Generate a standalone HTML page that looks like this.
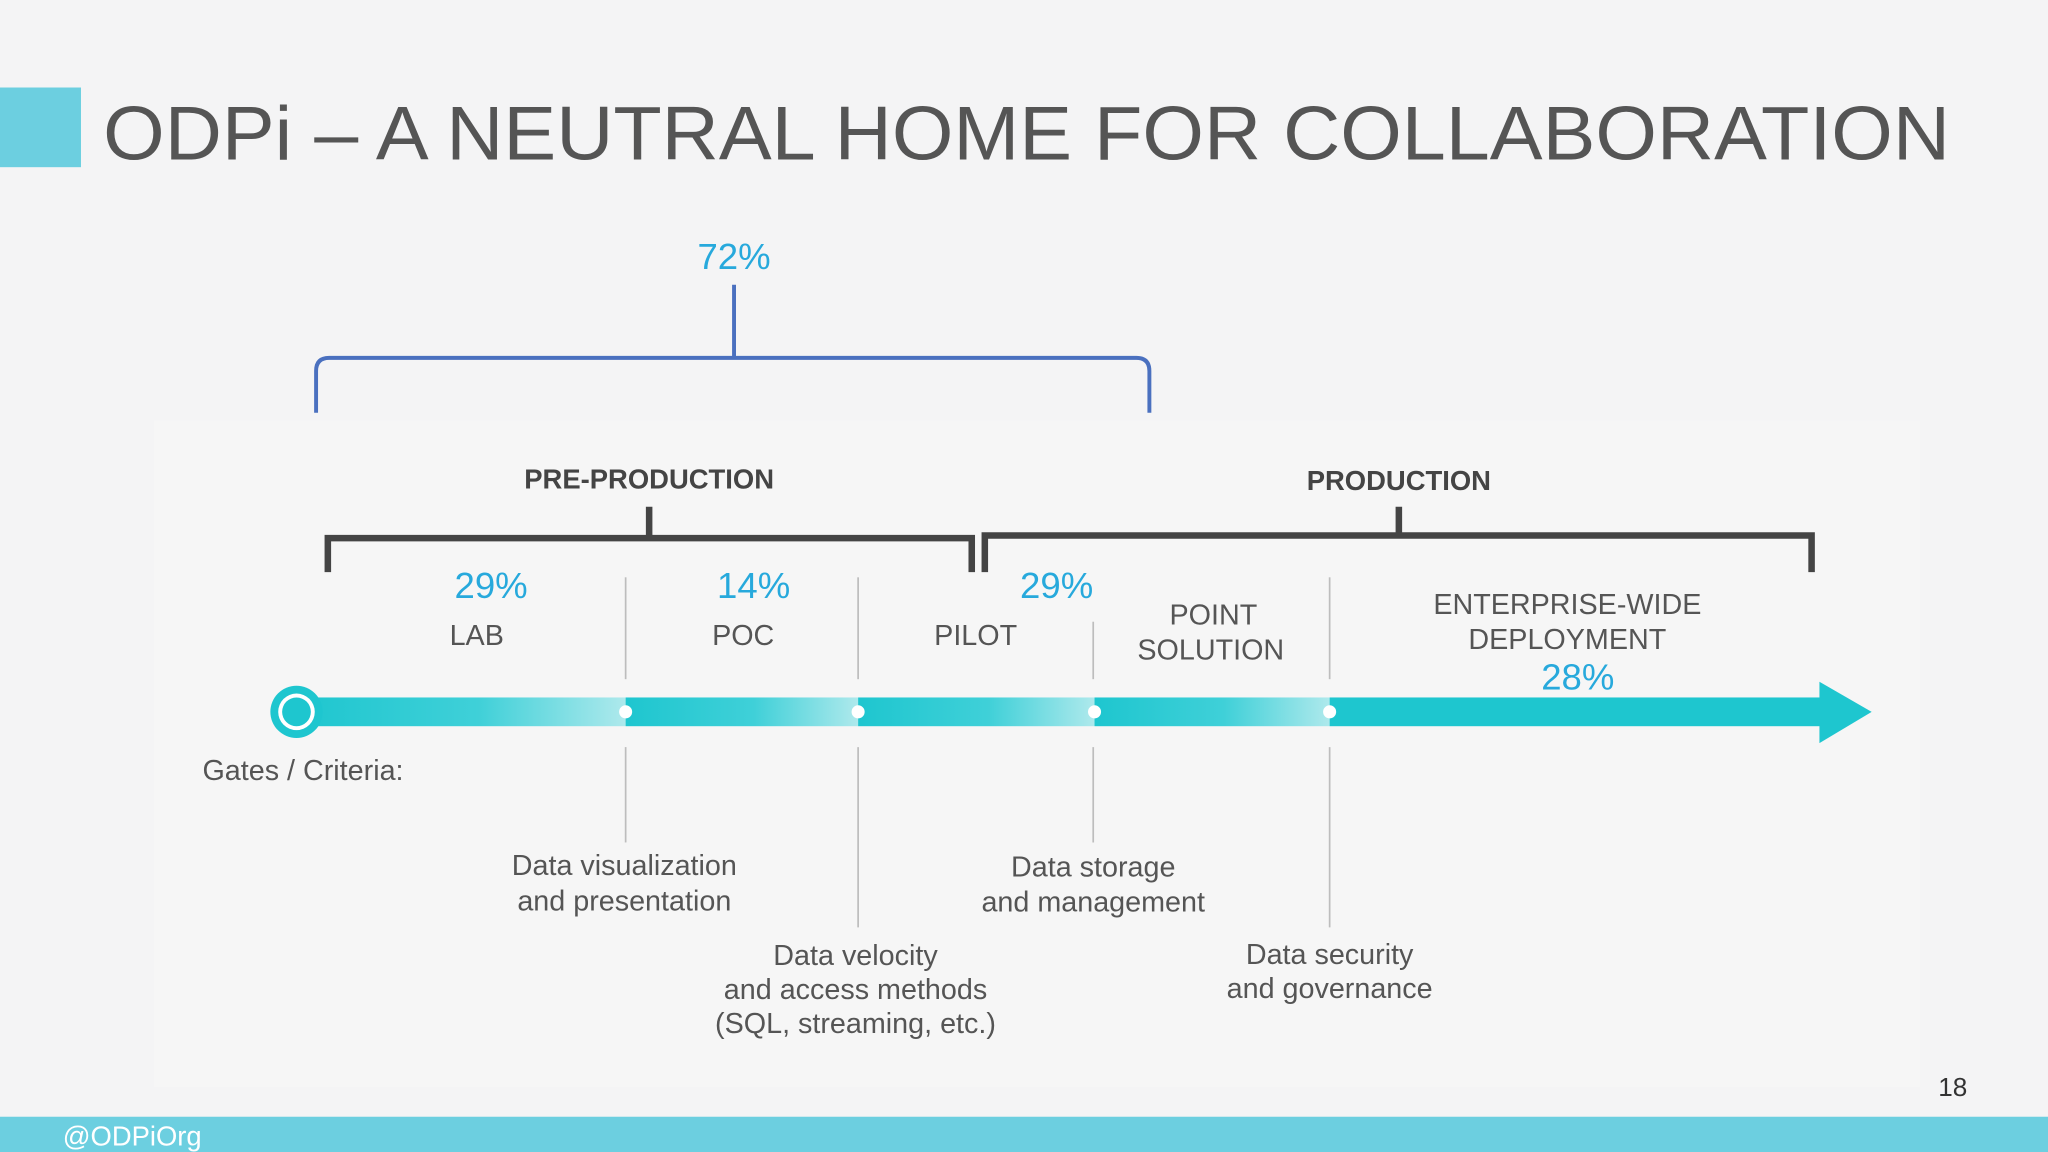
<!DOCTYPE html>
<html><head><meta charset="utf-8"><style>
html,body{margin:0;padding:0;background:#f4f4f5;}
svg{display:block;font-family:"Liberation Sans",sans-serif;}
.lbl{font-size:22px;fill:#555;text-anchor:middle;}
.pct{font-size:28px;fill:#27a9dc;text-anchor:middle;}
.hd{font-size:21px;font-weight:bold;fill:#444;text-anchor:middle;}
.gl{stroke:#bdbdbd;stroke-width:1.3;}
</style></head><body>
<svg width="2048" height="1152" viewBox="0 0 1568 882">
<defs>
<linearGradient id="seg" x1="0" x2="1" y1="0" y2="0">
<stop offset="0" stop-color="#1ec6cf"/><stop offset="0.55" stop-color="#3fd0d8"/><stop offset="1" stop-color="#aee9ec"/>
</linearGradient>
</defs>
<rect x="0" y="0" width="1568" height="882" fill="#f4f4f5"/>
<rect x="118" y="322" width="1352" height="510" fill="#f6f6f6"/>
<rect x="0" y="67" width="62" height="61" fill="#6ccfe0"/>
<text x="79" y="122" font-size="58" fill="#555" textLength="1414" lengthAdjust="spacingAndGlyphs">ODPi – A NEUTRAL HOME FOR COLLABORATION</text>

<text class="pct" x="562" y="206">72%</text>
<path d="M562 218V274M242 316V284Q242 274 252 274H870Q880 274 880 284V316" fill="none" stroke="#4a70bf" stroke-width="3"/>

<text class="hd" x="497" y="374">PRE-PRODUCTION</text>
<path d="M497 388V412M251 438V412H744V438" fill="none" stroke="#444" stroke-width="5"/>
<text class="hd" x="1071" y="375">PRODUCTION</text>
<path d="M1071 388V410M754 438V410H1387V438" fill="none" stroke="#444" stroke-width="5"/>

<g>
<line class="gl" x1="479" y1="442" x2="479" y2="520"/><line class="gl" x1="479" y1="572" x2="479" y2="645"/>
<line class="gl" x1="657" y1="442" x2="657" y2="520"/><line class="gl" x1="657" y1="572" x2="657" y2="710"/>
<line class="gl" x1="837" y1="476" x2="837" y2="520"/><line class="gl" x1="837" y1="572" x2="837" y2="645"/>
<line class="gl" x1="1018" y1="442" x2="1018" y2="520"/><line class="gl" x1="1018" y1="572" x2="1018" y2="710"/>
</g>

<g>
<rect x="228" y="534" width="251" height="22" fill="url(#seg)"/>
<rect x="479" y="534" width="178" height="22" fill="url(#seg)"/>
<rect x="657" y="534" width="181" height="22" fill="url(#seg)"/>
<rect x="838" y="534" width="180" height="22" fill="url(#seg)"/>
<rect x="1018" y="534" width="376" height="22" fill="#1ec6cf"/>
<polygon points="1393,522 1433,545 1393,569" fill="#1ec6cf"/>
<circle cx="479" cy="545" r="5" fill="#fff"/><circle cx="657" cy="545" r="5" fill="#fff"/>
<circle cx="838" cy="545" r="5" fill="#fff"/><circle cx="1018" cy="545" r="5" fill="#fff"/>
<circle cx="227" cy="545" r="20" fill="#1ec6cf"/><circle cx="227" cy="545" r="14" fill="#fff"/><circle cx="227" cy="545" r="11" fill="#1ec6cf"/>
</g>

<text class="pct" x="376" y="458">29%</text>
<text class="lbl" x="365" y="494">LAB</text>
<text class="pct" x="577" y="458">14%</text>
<text class="lbl" x="569" y="494">POC</text>
<text class="lbl" x="747" y="494">PILOT</text>
<text class="pct" x="809" y="458">29%</text>
<text class="lbl" x="929" y="478">POINT</text>
<text class="lbl" x="927" y="505">SOLUTION</text>
<text class="lbl" x="1200" y="470">ENTERPRISE-WIDE</text>
<text class="lbl" x="1200" y="497">DEPLOYMENT</text>
<text class="pct" x="1208" y="528">28%</text>

<text x="155" y="597" font-size="22" fill="#555">Gates / Criteria:</text>
<text class="lbl" x="478" y="670">Data visualization</text>
<text class="lbl" x="478" y="697">and presentation</text>
<text class="lbl" x="655" y="739">Data velocity</text>
<text class="lbl" x="655" y="765">and access methods</text>
<text class="lbl" x="655" y="791">(SQL, streaming, etc.)</text>
<text class="lbl" x="837" y="671">Data storage</text>
<text class="lbl" x="837" y="698">and management</text>
<text class="lbl" x="1018" y="738">Data security</text>
<text class="lbl" x="1018" y="764">and governance</text>

<text x="1484" y="839" font-size="20" fill="#333">18</text>
<rect x="0" y="855" width="1568" height="27" fill="#6ccfe0"/>
<text x="48" y="877" font-size="21" fill="#fff">@ODPiOrg</text>
</svg>
</body></html>
